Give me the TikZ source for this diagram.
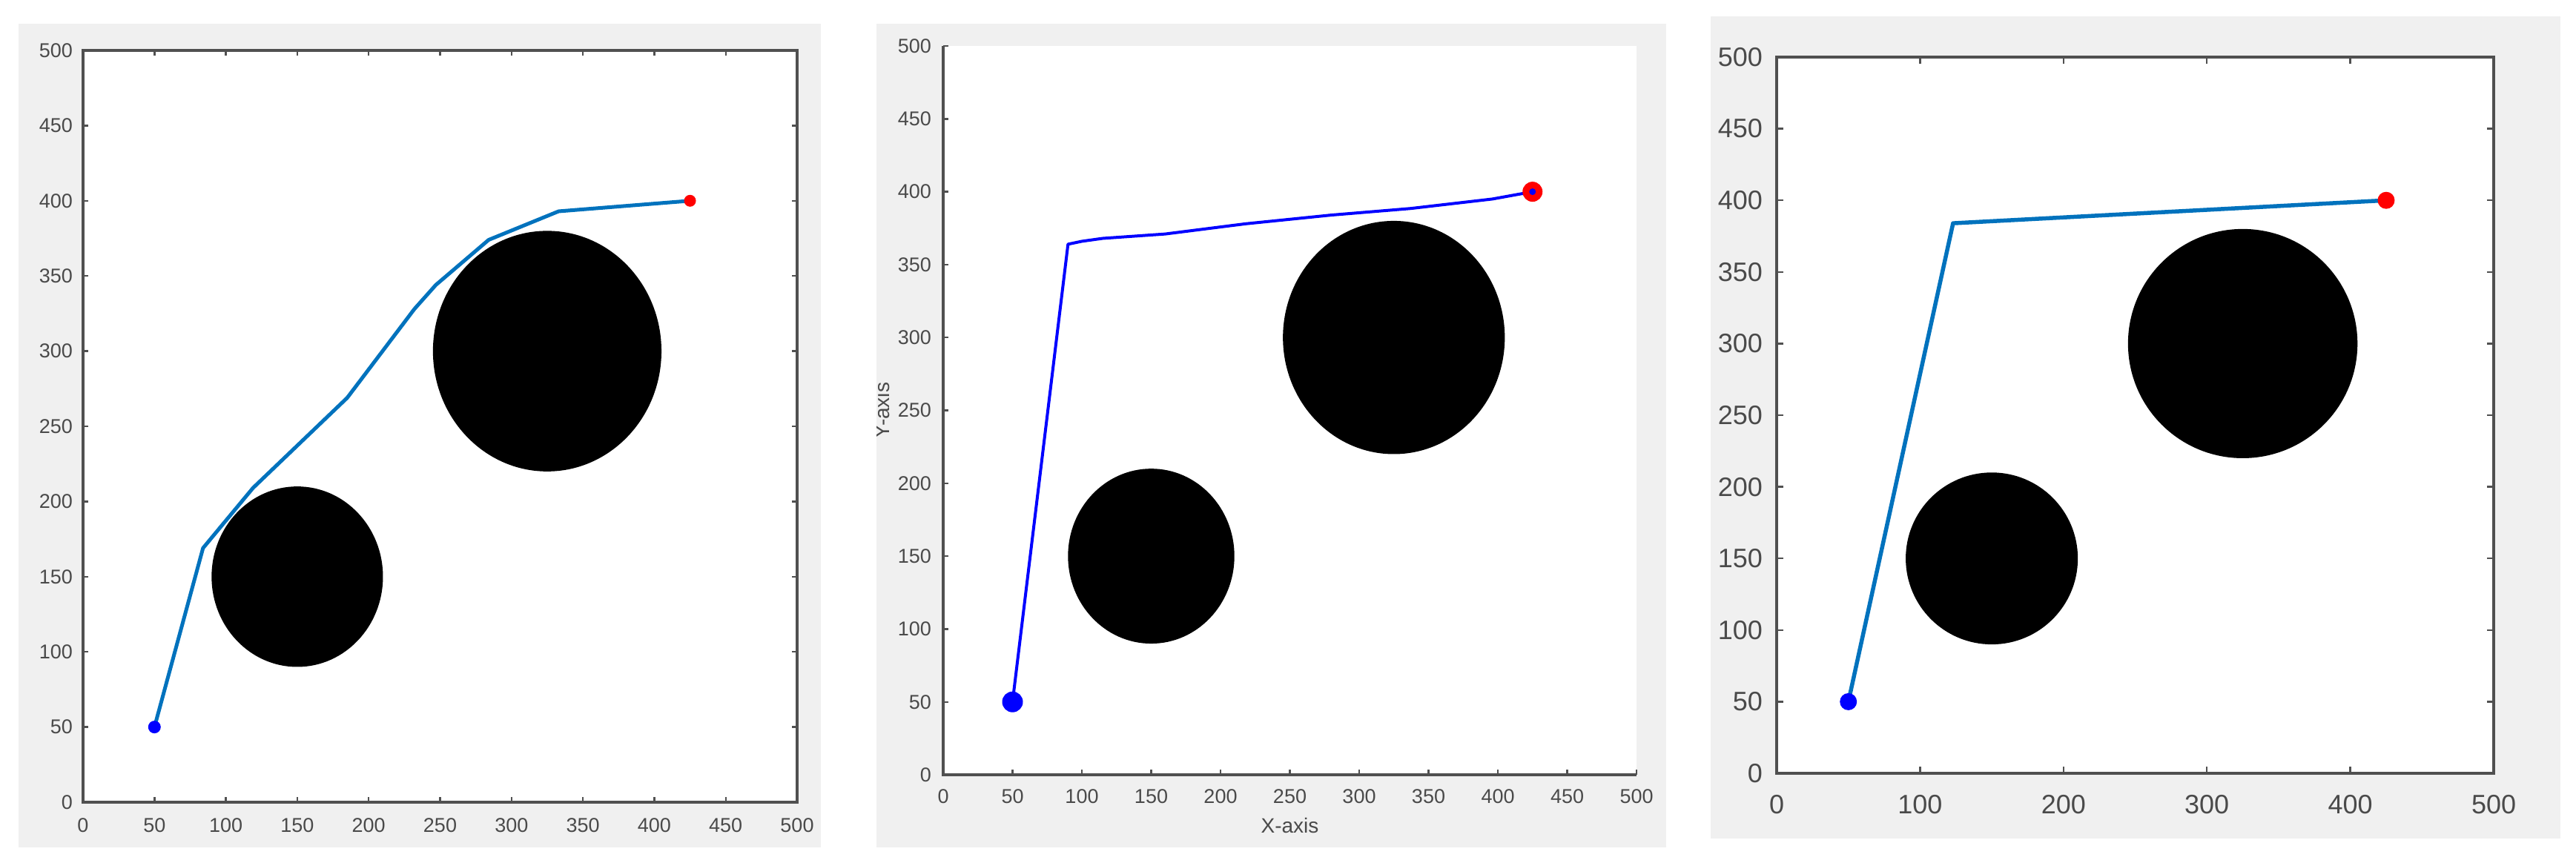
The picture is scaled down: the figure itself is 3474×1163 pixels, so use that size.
\documentclass[tikz,border=0pt]{standalone}
\usepackage{fontspec}
\setmainfont{Liberation Sans}
\definecolor{figbg}{HTML}{F0F0F0}
\definecolor{axgray}{HTML}{505050}
\definecolor{labgray}{HTML}{4A4A4A}
\definecolor{mblue}{HTML}{0072BD}
\begin{document}
\begin{tikzpicture}[x=1pt,y=-1pt,
  axline/.style={draw=axgray, line width=3.2pt},
  tickline/.style={draw=axgray, line width=2.4pt},
  labA/.style={text=labgray, inner sep=0pt, font=\fontsize{27}{30}\selectfont},
  labB/.style={text=labgray, inner sep=0pt, font=\fontsize{36}{40}\selectfont},
  obst/.style={fill=black},
  startdot/.style={circle, fill=blue, inner sep=0pt, draw=none},
  goaldot/.style={circle, fill=red, inner sep=0pt, draw=none}]
\useasboundingbox (0,0) rectangle (3474,1163);
\fill[white] (0,0) rectangle (3474,1163);
% figure backgrounds
\fill[figbg] (25,32) rectangle (1107,1143);
\fill[figbg] (1182,32) rectangle (2247,1143);
\fill[figbg] (2307,22) rectangle (3453,1131);

% ---------------- Panel 1 ----------------
\begin{scope}[shift={(112pt,-1082pt)}, x=1.926pt, y=2.028pt]
  \fill[white] (0,0) rectangle (500,500);
  \fill[obst] (150,150) ellipse [x radius=60, y radius=60];
  \fill[obst] (325,300) ellipse [x radius=80, y radius=80];
  \coordinate (a1) at (50,50);
  \coordinate (a2) at (84,169);
  \coordinate (a3) at (119,209);
  \coordinate (a4) at (185,269);
  \coordinate (a5) at (232,328);
  \coordinate (a6) at (247,344);
  \coordinate (a7) at (284,374);
  \coordinate (a8) at (333,393);
  \coordinate (a9) at (425,400);
  \draw[mblue, line width=5pt, line join=round] (a1) -- (a2) -- (a3) -- (a4) -- (a5) -- (a6) -- (a7) -- (a8) -- (a9);
  \node[startdot, minimum size=17pt] (s1) at (a1) {};
  \node[goaldot, minimum size=16pt] (g1) at (a9) {};
  \draw[axline] (0,0) rectangle (500,500);
  \foreach \t in {50,100,...,450} {
    \draw[tickline] (\t,0) -- ++(0pt,7pt);
    \draw[tickline] (\t,500) -- ++(0pt,-7pt);
    \draw[tickline] (0,\t) -- ++(7pt,0pt);
    \draw[tickline] (500,\t) -- ++(-7pt,0pt);
  }
  \foreach \t in {0,50,...,500} {
    \node[labA, anchor=east] at ([xshift=-14pt]0,\t) {\t};
    \node[labA, anchor=center] at ([yshift=-31pt]\t,0) {\t};
  }
\end{scope}

% ---------------- Panel 2 ----------------
\begin{scope}
\clip (1182,32) rectangle (2247,1143);
\begin{scope}[shift={(1272pt,-1045pt)}, x=1.87pt, y=1.966pt]
  \fill[white] (0,0) rectangle (500,500);
  \fill[obst] (150,150) ellipse [x radius=60, y radius=60];
  \fill[obst] (325,300) ellipse [x radius=80, y radius=80];
  \coordinate (b1) at (50,50);
  \coordinate (b2) at (90,364);
  \coordinate (b3) at (100,366);
  \coordinate (b4) at (115,368);
  \coordinate (b5) at (160,371);
  \coordinate (b6) at (218,378);
  \coordinate (b7) at (280,384);
  \coordinate (b8) at (337,388.5);
  \coordinate (b9) at (396,395);
  \coordinate (b10) at (425,400);
  \draw[blue, line width=4pt, line join=round] (b1) -- (b2) -- (b3) -- (b4) -- (b5) -- (b6) -- (b7) -- (b8) -- (b9) -- (b10);
  \node[startdot, minimum size=28pt] (s2) at (b1) {};
  \node[goaldot, minimum size=27pt] (g2) at (b10) {};
  \node[startdot, minimum size=9pt] (g2in) at (b10) {};
  \draw[axline] (0,500) -- (0,0) -- (500,0);
  \foreach \t in {50,100,...,500} {
    \draw[tickline] (\t,0) -- ++(0pt,7pt);
    \draw[tickline] (0,\t) -- ++(7pt,0pt);
  }
  \foreach \t in {0,50,...,500} {
    \node[labA, anchor=east] at ([xshift=-16pt]0,\t) {\t};
    \node[labA, anchor=center] at ([yshift=-29pt]\t,0) {\t};
  }
  \node[labA, font=\fontsize{28}{30}\selectfont] (xl2) at ([yshift=-68pt]250,0) {X-axis};
  \node[labA, font=\fontsize{28}{30}\selectfont, rotate=90] (yl2) at ([xshift=-83pt]0,250) {Y-axis};
\end{scope}
\end{scope}

% ---------------- Panel 3 ----------------
\begin{scope}[shift={(2396pt,-1043pt)}, x=1.934pt, y=1.932pt]
  \fill[white] (0,0) rectangle (500,500);
  \fill[obst] (150,150) ellipse [x radius=60, y radius=60];
  \fill[obst] (325,300) ellipse [x radius=80, y radius=80];
  \coordinate (c1) at (50,50);
  \coordinate (c2) at (123,384);
  \coordinate (c3) at (425,400);
  \draw[mblue, line width=5.5pt, line join=round] (c1) -- (c2) -- (c3);
  \node[startdot, minimum size=23pt] (s3) at (c1) {};
  \node[goaldot, minimum size=23pt] (g3) at (c3) {};
  \draw[axline] (0,0) rectangle (500,500);
  \foreach \t in {100,200,...,400} {
    \draw[tickline] (\t,0) -- ++(0pt,9pt);
    \draw[tickline] (\t,500) -- ++(0pt,-9pt);
  }
  \foreach \t in {50,100,...,450} {
    \draw[tickline] (0,\t) -- ++(9pt,0pt);
    \draw[tickline] (500,\t) -- ++(-9pt,0pt);
  }
  \foreach \t in {0,50,...,500} {
    \node[labB, anchor=east] at ([xshift=-19pt]0,\t) {\t};
  }
  \foreach \t in {0,100,...,500} {
    \node[labB, anchor=center] at ([yshift=-42pt]\t,0) {\t};
  }
\end{scope}
\end{tikzpicture}
\end{document}
